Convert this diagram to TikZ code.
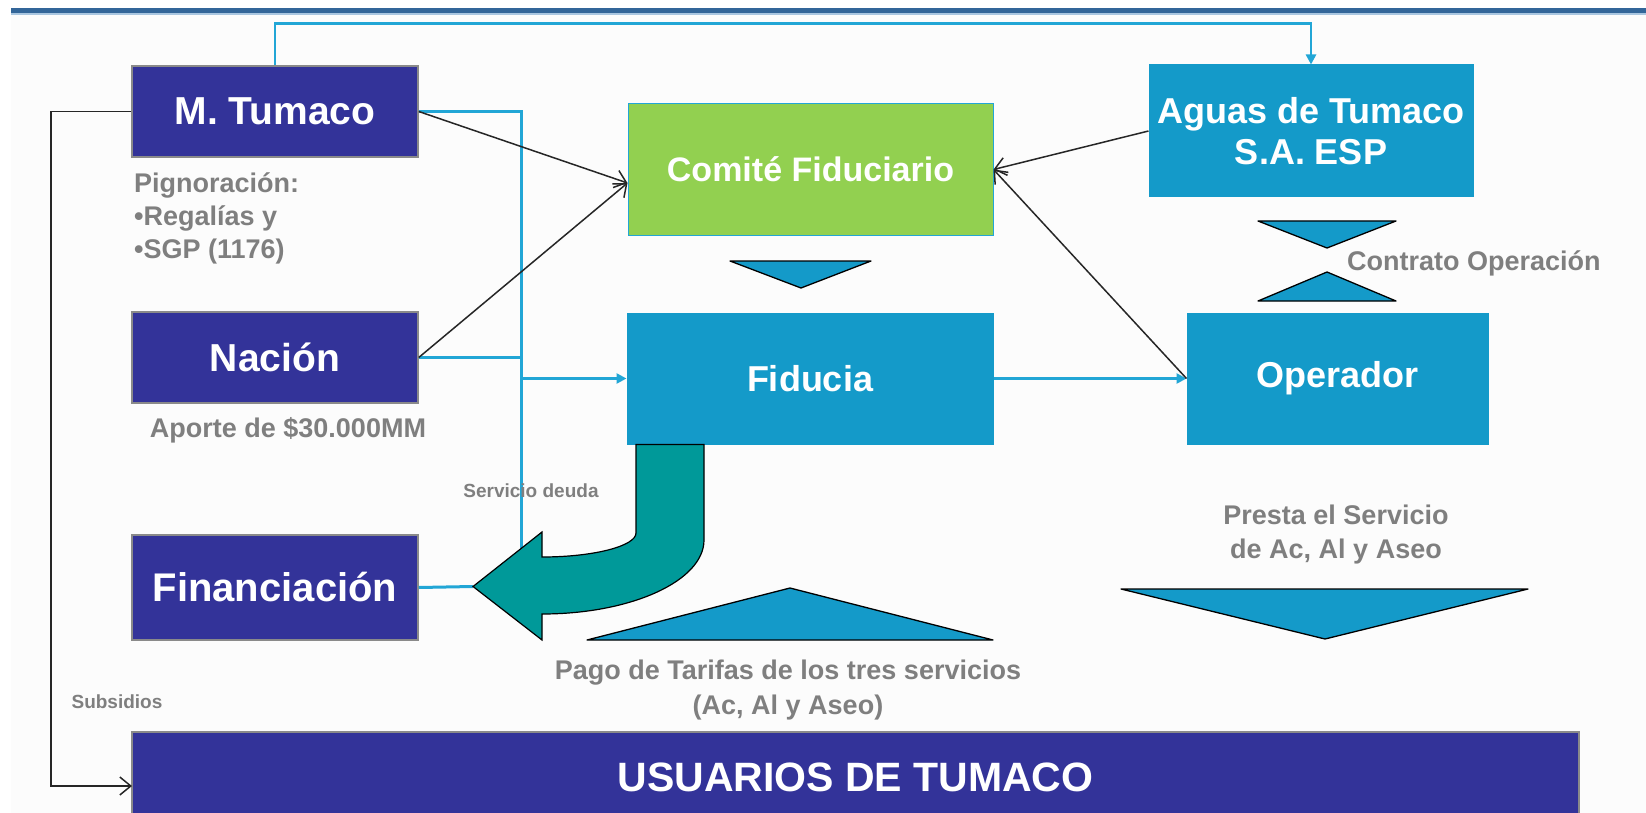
\documentclass[tikz,border=0pt]{standalone}
\usepackage{fontspec}
\setmainfont{Liberation Sans}
\usetikzlibrary{arrows.meta,calc}
\definecolor{navy}{HTML}{333399}
\definecolor{cyanbox}{HTML}{149AC9}
\definecolor{cyanline}{HTML}{22A6D6}
\definecolor{greenbox}{HTML}{92D050}
\definecolor{tealarrow}{HTML}{009999}
\definecolor{txtgray}{HTML}{7F7F7F}
\definecolor{boxgray}{HTML}{8A8A8A}
\definecolor{topbar}{HTML}{336699}
\definecolor{topline}{HTML}{A9C6E0}
\definecolor{bgpaper}{HTML}{FCFCFC}
\newcommand\fsz[2]{\fontsize{#1}{#2}\selectfont}
\begin{document}
\begin{tikzpicture}[x=1pt,y=-1pt,
  navybox/.style={fill=navy, draw=boxgray, line width=1.5pt, text=white, font=\bfseries\fsz{39}{44}, inner sep=0pt},
  cyanbx/.style={fill=cyanbox, draw=cyanbox, line width=1pt, text=white, font=\bfseries\fsz{36}{42}, inner sep=0pt, align=center},
  lbl/.style={text=txtgray, font=\bfseries\fsz{27}{33}, inner sep=0pt},
  smalllbl/.style={text=txtgray, font=\bfseries\fsz{19}{23}, inner sep=0pt},
  bline/.style={draw=black!85, line width=1.5pt, -{Straight Barb[length=11pt,width=18pt]}},
  cline/.style={draw=cyanline, line width=3pt},
  carrow/.style={cline, -{Triangle[length=10pt,width=10pt]}},
  tri/.style={fill=cyanbox, draw=black, line width=1.3pt, line join=round},
]
\useasboundingbox (0,0) rectangle (1646,813);
% background and top bar
\fill[white] (0,0) rectangle (1646,813);
\fill[bgpaper] (11,13) rectangle (1646,813);
\fill[topbar] (11,8) rectangle (1646,13);
\fill[topline] (11,13) rectangle (1646,15);

% boxes
\node[navybox, minimum width=286pt, minimum height=91pt] (tumaco) at (275,111.5) {M. Tumaco};
\node[navybox, minimum width=286pt, minimum height=91pt] (nacion) at (275,357.5) {Nación};
\node[navybox, minimum width=286pt, minimum height=105pt, font=\bfseries\fsz{40}{46}] (financ) at (275,587.5) {Financiación};
\node[navybox, minimum width=1447pt, minimum height=90pt, font=\bfseries\fsz{41}{46}] (usuarios) at (855.5,777) {USUARIOS DE TUMACO};
\node[cyanbx, fill=greenbox, draw=cyanline, minimum width=365pt, minimum height=131pt, font=\bfseries\fsz{34}{40}] (comite) at (810.5,169.5) {Comité Fiduciario};
\node[cyanbx, minimum width=366pt, minimum height=131pt] (fiducia) at (810,378.5) {Fiducia};
\node[cyanbx, minimum width=324pt, minimum height=132pt] (aguas) at (1311,131) {Aguas de Tumaco\\[-1pt]S.A. ESP};
\node[cyanbx, minimum width=301pt, minimum height=131pt] (operador) at (1337.5,378.5) {Operador};

% coordinates
\coordinate (topY) at (0,23.5);
\coordinate (busB) at (521,548);
\coordinate (subL) at (51,786);
\coordinate (subE) at (132,786);
\coordinate (tealtip) at (473,586.5);

% cyan connectors
\draw[carrow, line width=2.5pt] (tumaco.north) -- (tumaco.north |- topY) -| (aguas.north);
\draw[cline] (tumaco.east) -| (busB);
\draw[cline] (nacion.east) -- (nacion.east -| busB);
\draw[carrow] (busB |- fiducia.west) -- (fiducia.west);
\draw[carrow] (fiducia.east) -- (operador.west);
\draw[cline] (financ.east) -- (tealtip);

% black connectors
\draw[bline] (tumaco.west) -| (subL) -- (subE);
\draw[bline] (tumaco.east) -- ($(comite.west)+(0,13.5)$);
\draw[bline] (nacion.east) -- ($(comite.west)+(0,13.5)$);
\draw[bline] (aguas.west) -- (comite.east);
\draw[bline] (operador.west) -- (comite.east);

% triangles
\draw[tri] (730,261) -- (871,261) -- (801,288) -- cycle;
\draw[tri] (1258,221) -- (1396,221) -- (1327,248) -- cycle;
\draw[tri] (1258,301) -- (1396,301) -- (1327,272) -- cycle;
\draw[tri] (587,640) -- (993,640) -- (790,588) -- cycle;
\draw[tri] (1121,589) -- (1528,589) -- (1325,639) -- cycle;

% teal bent arrow
\draw[fill=tealarrow, draw=black, line width=1.2pt, line join=miter]
  (636,444.5) -- (636,533) .. controls (636,546) and (594,557) .. (542,557)
  -- (542,532) -- (tealtip) -- (542,640) -- (542,614)
  .. controls (631,614) and (704,581) .. (704,540) -- (704,444.5) -- cycle;

% labels
\node[lbl, anchor=west, align=left] (pign) at (134,218) {Pignoración:\\•Regalías y\\•SGP (1176)};
\node[lbl] (aporte) at (288,430) {Aporte de \$30.000MM};
\node[lbl, anchor=west] (contrato) at (1347,263) {Contrato Operación};
\node[lbl, align=center, font=\bfseries\fsz{27}{34}] (presta) at (1336,535) {Presta el Servicio\\de Ac, Al y Aseo};
\node[lbl, align=center, font=\bfseries\fsz{27}{35}] (pago) at (788,690) {Pago de Tarifas de los tres servicios\\(Ac, Al y Aseo)};
\node[smalllbl] (subs) at (117,702) {Subsidios};
\node[smalllbl] (deuda) at (531,491) {Servicio deuda};
\end{tikzpicture}
\end{document}
